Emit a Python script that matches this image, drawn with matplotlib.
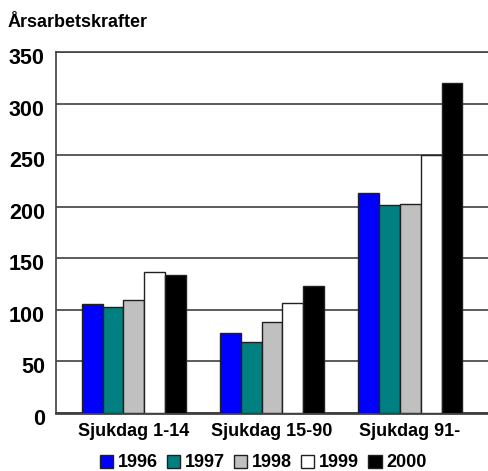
import numpy as np
import matplotlib
matplotlib.use('Agg')
import matplotlib.pyplot as plt
import matplotlib.transforms as mtransforms

plt.rcParams['font.family'] = ['Liberation Sans', 'DejaVu Sans']
plt.rcParams['font.weight'] = 'bold'

categories = ["Sjukdag 1-14", "Sjukdag 15-90", "Sjukdag 91-"]
years = ["1996", "1997", "1998", "1999", "2000"]
v1996 = [106, 78, 213]
v1997 = [103, 69, 202]
v1998 = [110, 88, 203]
v1999 = [137, 107, 250]
v2000 = [134, 123, 320]
series = [v1996, v1997, v1998, v1999, v2000]
colors = ["#0000ff", "#008080", "#c0c0c0", "#ffffff", "#000000"]
yticks = [0, 50, 100, 150, 200, 250, 300, 350]

fig = plt.figure(figsize=(4.89, 4.71), dpi=100)
ax = fig.add_axes([0.1145, 0.1231, 0.8835, 0.7665])

x = np.arange(len(categories))
w = 0.152
for i, (vals, c) in enumerate(zip(series, colors)):
    ax.bar(x + (i - 2) * w, vals, w, color=c, edgecolor='#202020',
           linewidth=1.0, label=years[i], zorder=3)

ax.set_ylim(0, 350)
ax.set_xlim(-0.565, 2.565)
ax.set_yticks(yticks)
ax.set_yticklabels([str(t) for t in yticks], fontsize=15.5, fontweight='bold')
ax.set_xticks(x)
ax.set_xticklabels(categories, fontsize=13, fontweight='bold')
ax.tick_params(axis='y', length=0, pad=8)
ax.tick_params(axis='x', length=0, pad=7)
# reference labels sit a little below their gridlines
shift = mtransforms.ScaledTranslation(0, -4 / 100, fig.dpi_scale_trans)
for lbl in ax.get_yticklabels():
    lbl.set_transform(lbl.get_transform() + shift)

ax.yaxis.grid(True, color='#404040', linewidth=1.2, zorder=0)
for s in ['left', 'top']:
    ax.spines[s].set_color('#404040')
    ax.spines[s].set_linewidth(1.2)
ax.spines['right'].set_visible(False)
ax.spines['bottom'].set_color('#404040')
ax.spines['bottom'].set_linewidth(2)

fig.text(0.016, 0.953, "Årsarbetskrafter", fontsize=13, fontweight='bold',
         va='center', ha='left')

fig.legend(loc='center', bbox_to_anchor=(0.538, 0.017), ncol=5, frameon=False,
           fontsize=13, handlelength=0.75, handleheight=0.75, handletextpad=0.25,
           columnspacing=0.5, borderaxespad=0)

fig.savefig("out.png", dpi=100)
